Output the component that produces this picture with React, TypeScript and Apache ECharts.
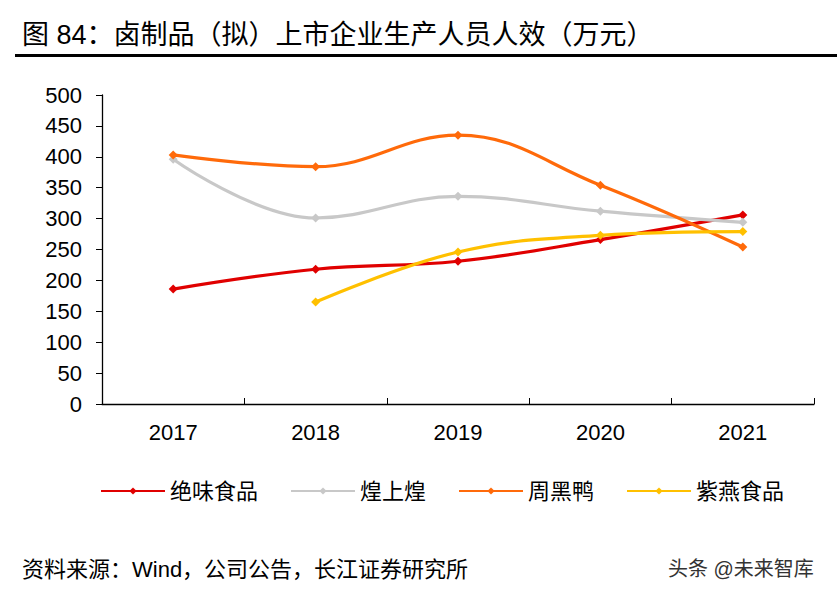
import React, { useEffect, useRef } from "react";
import * as echarts from "echarts";

const years = ["2017", "2018", "2019", "2020", "2021"];
const juewei = [186, 218, 231, 266, 306];
const huangshanghuang = [396, 301, 336, 312, 294];
const zhouheiya = [403, 384, 435, 354, 254];
const ziyan = [null, 165, 246, 273, 279];

const seriesNames = ["绝味食品", "煌上煌", "周黑鸭", "紫燕食品"];
const seriesColors = ["#E00000", "#C8C8C8", "#FF6A0A", "#FFC000"];

const FONT = "'Liberation Sans', 'Noto Sans CJK SC', sans-serif";

export default function App() {
  const ref = useRef<HTMLDivElement>(null);
  useEffect(() => {
    if (!ref.current) return;
    const chart = echarts.init(ref.current, null, { renderer: "svg" });
    const data = [juewei, huangshanghuang, zhouheiya, ziyan];
    chart.setOption({
      animation: false,
      backgroundColor: "#fff",
      grid: { left: 102, right: 23, top: 95, bottom: 187 },
      legend: {
        left: 95,
        top: 475,
        itemWidth: 64,
        itemHeight: 9,
        itemGap: 32,
        textStyle: { fontSize: 22, color: "#000", fontFamily: FONT },
        data: seriesNames,
      },
      xAxis: {
        type: "category",
        data: years,
        boundaryGap: true,
        axisLine: { lineStyle: { color: "#000", width: 1.3 } },
        axisTick: { show: true, inside: true, length: 6, lineStyle: { color: "#000" } },
        axisLabel: { fontSize: 22, color: "#000", fontFamily: FONT, margin: 17 },
        splitLine: { show: false },
      },
      yAxis: {
        type: "value",
        min: 0,
        max: 500,
        interval: 50,
        axisLine: { show: true, lineStyle: { color: "#000", width: 1.3 } },
        axisTick: { show: true, inside: false, length: 6, lineStyle: { color: "#000" } },
        axisLabel: { fontSize: 22, color: "#000", fontFamily: FONT, margin: 20 },
        splitLine: { show: false },
      },
      series: seriesNames.map((name, i) => ({
        name,
        type: "line",
        data: data[i],
        smooth: 0.4,
        symbol: "diamond",
        symbolSize: 9,
        lineStyle: { width: 3.2, color: seriesColors[i] },
        itemStyle: { color: seriesColors[i] },
        connectNulls: false,
      })),
      graphic: [
        {
          type: "text",
          left: 22,
          top: 21,
          style: {
            text: "图 84：卤制品（拟）上市企业生产人员人效（万元）",
            fontSize: 27,
            fill: "#000",
            fontFamily: FONT,
          },
        },
        {
          type: "rect",
          shape: { x: 15, y: 54, width: 822, height: 3 },
          style: { fill: "#000" },
        },
        {
          type: "text",
          left: 22,
          top: 558,
          style: {
            text: "资料来源：Wind，公司公告，长江证券研究所",
            fontSize: 22,
            fill: "#000",
            fontFamily: FONT,
          },
        },
        {
          type: "text",
          left: 668,
          top: 559,
          style: {
            text: "头条 @未来智库",
            fontSize: 20,
            fill: "#333",
            fontFamily: FONT,
          },
        },
      ],
    });
    return () => chart.dispose();
  }, []);
  return <div ref={ref} style={{ width: 837, height: 591, position: "absolute", left: 0, top: 0 }} />;
}
